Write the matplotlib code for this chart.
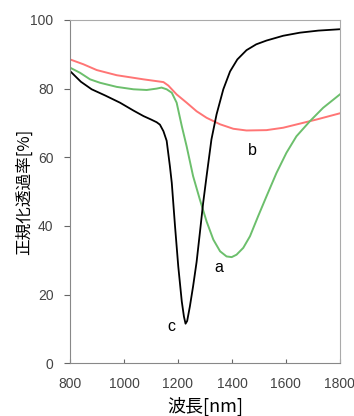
import matplotlib
matplotlib.use("Agg")
import matplotlib.pyplot as plt

plt.rcParams['font.family'] = ['Noto Sans CJK JP', 'DejaVu Sans']

# c: 黒
wl_c = [800, 840, 880, 930, 985, 1035, 1072, 1100, 1121, 1133, 1146, 1158, 1170,
        1177, 1189, 1201, 1214, 1222, 1228, 1234, 1244, 1256, 1269, 1281, 1293,
        1306, 1324, 1343, 1368, 1393, 1420, 1454, 1490, 1528, 1590, 1652, 1720,
        1800]
t_c = [85.1, 82.0, 79.8, 78.0, 75.9, 73.6, 72.0, 71.0, 70.2, 69.5, 67.6, 64.8,
       57.4, 52.5, 39.9, 28.2, 18.0, 13.6, 11.5, 12.3, 16.5, 22.4, 29.5, 37.9,
       46.5, 54.5, 65.2, 72.5, 79.8, 85.0, 88.5, 91.2, 92.9, 94.0, 95.4, 96.3,
       96.9, 97.3]

# a: 緑
wl_a = [800, 837, 874, 911, 973, 1035, 1084, 1121, 1139, 1158, 1177, 1195, 1214,
        1232, 1256, 1281, 1306, 1331, 1356, 1380, 1399, 1417, 1442, 1467, 1497,
        1528, 1565, 1602, 1639, 1689, 1738, 1800]
t_a = [86.1, 84.6, 82.7, 81.7, 80.5, 79.8, 79.6, 80.0, 80.3, 79.8, 78.8, 75.9,
       69.1, 63.2, 54.5, 47.7, 41.3, 36.0, 32.6, 31.1, 30.9, 31.6, 33.6, 37.0,
       42.8, 48.6, 55.4, 61.3, 66.1, 70.5, 74.4, 78.3]

# b: 赤
wl_b = [800, 849, 899, 973, 1072, 1146, 1164, 1195, 1232, 1269, 1306, 1356,
        1405, 1454, 1528, 1590, 1652, 1714, 1800]
t_b = [88.5, 87.1, 85.4, 83.9, 82.7, 81.9, 80.9, 78.3, 75.9, 73.4, 71.5, 69.6,
       68.3, 67.8, 67.9, 68.6, 69.8, 71.0, 72.8]

labels = ['a', 'b', 'c']
label_x = [1352, 1476, 1177]
label_y = [28, 62, 10.7]

fig = plt.figure(figsize=(3.54, 4.16), dpi=100)
ax = fig.add_axes([0.198, 0.127, 0.762, 0.825])

ax.plot(wl_b, t_b, color='#ff7575', lw=1.4)
ax.plot(wl_a, t_a, color='#6cbf6c', lw=1.4)
ax.plot(wl_c, t_c, color='black', lw=1.3)

for s, x, y in zip(labels, label_x, label_y):
    ax.text(x, y, s, fontsize=11.5, ha='center', va='center', family=['Liberation Sans'])

ax.set_xlim(800, 1800)
ax.set_ylim(0, 100)
ax.set_xticks([800, 1000, 1200, 1400, 1600, 1800])
ax.set_yticks([0, 20, 40, 60, 80, 100])
for sp in ax.spines.values():
    sp.set_color('#aaaaaa')
ax.spines['left'].set_color('#888888')
ax.spines['bottom'].set_color('#888888')
ax.tick_params(axis='x', direction='in', length=3, color='#666666', labelsize=10,
               labelcolor='#444444', pad=10)
ax.tick_params(axis='y', direction='out', length=4, color='#666666', labelsize=10,
               labelcolor='#444444', pad=8)
for lab in ax.get_xticklabels() + ax.get_yticklabels():
    lab.set_family(['Liberation Sans'])

ax.set_xlabel('波長[nm]', fontsize=13, labelpad=4)
ax.set_ylabel('正規化透過率[%]', fontsize=12, labelpad=-2)

fig.savefig('out.png', dpi=100)
